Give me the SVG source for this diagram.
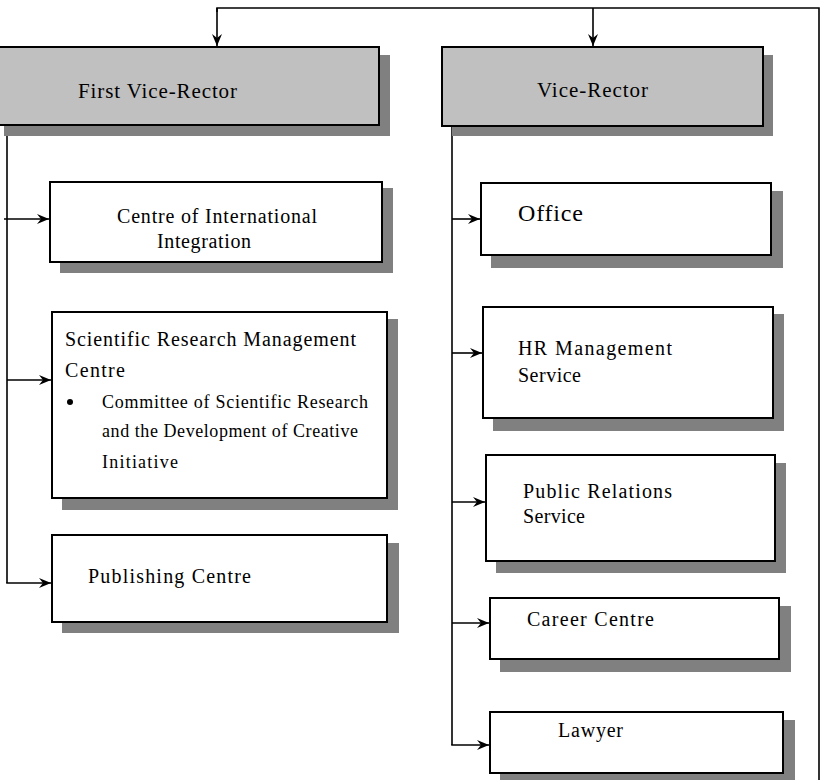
<svg xmlns="http://www.w3.org/2000/svg" width="821" height="780" viewBox="0 0 821 780">
<defs>
<style>
.box{fill:#ffffff;stroke:#000;stroke-width:2}
.head{fill:#c0c0c0;stroke:#000;stroke-width:2}
.sh{fill:#808080}
.ln{fill:none;stroke:#000;stroke-width:1.6}
text{font-family:"Liberation Serif","Times New Roman",serif;fill:#000}
.t20{font-size:20px}
.t18{font-size:18px}
</style>
<marker id="ah" markerWidth="13" markerHeight="11" refX="12" refY="5" orient="auto" markerUnits="userSpaceOnUse">
<path d="M0,0 L12,5 L0,10 L4,5 z" fill="#000"/>
</marker>
</defs>
<rect width="821" height="780" fill="#fff"/>
<g id="connectors">
<polyline class="ln" points="217,12 217,8 819,8 819,780"/>
<line class="ln" x1="217" y1="8" x2="217" y2="46" marker-end="url(#ah)"/>
<line class="ln" x1="593" y1="8" x2="593" y2="46" marker-end="url(#ah)"/>
<line class="ln" x1="7" y1="125" x2="7" y2="583"/>
<line class="ln" x1="4" y1="219" x2="49" y2="219" marker-end="url(#ah)"/>
<line class="ln" x1="7" y1="380" x2="51" y2="380" marker-end="url(#ah)"/>
<line class="ln" x1="6.2" y1="583" x2="51" y2="583" marker-end="url(#ah)"/>
<line class="ln" x1="452" y1="126" x2="452" y2="745"/>
<line class="ln" x1="452" y1="219" x2="480" y2="219" marker-end="url(#ah)"/>
<line class="ln" x1="452" y1="353" x2="482" y2="353" marker-end="url(#ah)"/>
<line class="ln" x1="452" y1="502" x2="485" y2="502" marker-end="url(#ah)"/>
<line class="ln" x1="452" y1="623" x2="489" y2="623" marker-end="url(#ah)"/>
<line class="ln" x1="451.2" y1="745" x2="489" y2="745" marker-end="url(#ah)"/>
</g>
<g id="first-vice-rector">
<rect class="sh" x="4" y="55" width="386" height="81"/>
<rect class="head" x="-6" y="47" width="385" height="78"/>
<text x="78" y="98" font-size="21" textLength="159" lengthAdjust="spacing">First Vice-Rector</text>
</g>
<g id="vice-rector">
<rect class="sh" x="452" y="55" width="321" height="81"/>
<rect class="head" x="442" y="47" width="321" height="79"/>
<text x="537" y="97" font-size="21" textLength="111" lengthAdjust="spacing">Vice-Rector</text>
</g>
<g id="centre-international">
<rect class="sh" x="60" y="188" width="333" height="85"/>
<rect class="box" x="50" y="182" width="332" height="80"/>
<text class="t20" x="117" y="223" textLength="200" lengthAdjust="spacing">Centre of International</text>
<text class="t20" x="157" y="248" textLength="94" lengthAdjust="spacing">Integration</text>
</g>
<g id="scientific-research">
<rect class="sh" x="62" y="319" width="336" height="191"/>
<rect class="box" x="52" y="312" width="335" height="186"/>
<text class="t20" x="65" y="346" textLength="291" lengthAdjust="spacing">Scientific Research Management</text>
<text class="t20" x="65" y="377" textLength="60" lengthAdjust="spacing">Centre</text>
<circle cx="70" cy="402" r="3"/>
<text class="t18" x="102" y="408" textLength="266" lengthAdjust="spacing">Committee of Scientific Research</text>
<text class="t18" x="102" y="437" textLength="256" lengthAdjust="spacing">and the Development of Creative</text>
<text class="t18" x="102" y="468" textLength="76" lengthAdjust="spacing">Initiative</text>
</g>
<g id="publishing-centre">
<rect class="sh" x="62" y="543" width="337" height="90"/>
<rect class="box" x="52" y="535" width="335" height="87"/>
<text class="t20" x="88" y="583" textLength="163" lengthAdjust="spacing">Publishing Centre</text>
</g>
<g id="office">
<rect class="sh" x="491" y="191" width="292" height="77"/>
<rect class="box" x="481" y="183" width="290" height="72"/>
<text x="518" y="221" font-size="24" textLength="65" lengthAdjust="spacing">Office</text>
</g>
<g id="hr-management">
<rect class="sh" x="493" y="314" width="291" height="117"/>
<rect class="box" x="483" y="307" width="290" height="111"/>
<text class="t20" x="518" y="355" textLength="154" lengthAdjust="spacing">HR Management</text>
<text class="t20" x="518" y="382" textLength="63" lengthAdjust="spacing">Service</text>
</g>
<g id="public-relations">
<rect class="sh" x="496" y="463" width="290" height="110"/>
<rect class="box" x="486" y="455" width="289" height="106"/>
<text class="t20" x="523" y="498" textLength="149" lengthAdjust="spacing">Public Relations</text>
<text class="t20" x="523" y="523" textLength="62" lengthAdjust="spacing">Service</text>
</g>
<g id="career-centre">
<rect class="sh" x="500" y="606" width="291" height="66"/>
<rect class="box" x="490" y="598" width="289" height="61"/>
<text class="t20" x="527" y="626" textLength="127" lengthAdjust="spacing">Career Centre</text>
</g>
<g id="lawyer">
<rect class="sh" x="500" y="720" width="295" height="62"/>
<rect class="box" x="490" y="712" width="293" height="61"/>
<text class="t20" x="558" y="737" textLength="65" lengthAdjust="spacing">Lawyer</text>
</g>
</svg>
